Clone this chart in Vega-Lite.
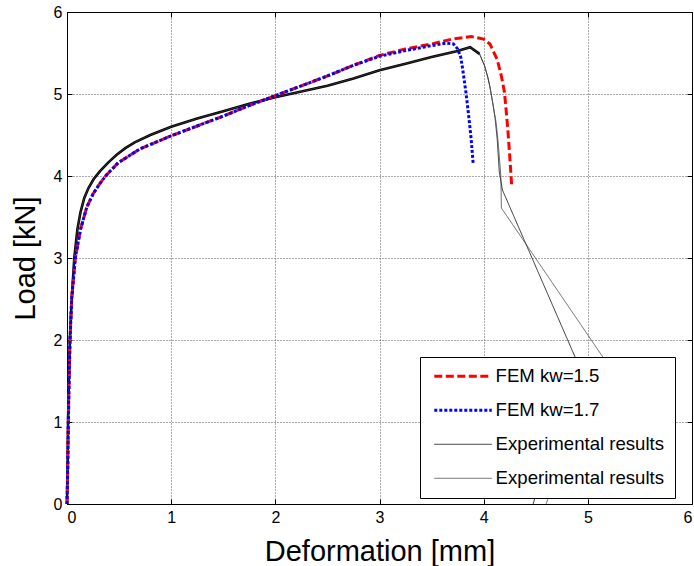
{
  "$schema": "https://vega.github.io/schema/vega-lite/v6.json",
  "width": 625,
  "height": 492,
  "autosize": {"type": "none"},
  "padding": {"left": 67, "top": 12, "right": 2, "bottom": 62},
  "background": "white",
  "config": {
    "font": "Liberation Sans",
    "view": {"stroke": "black", "strokeWidth": 1},
    "axis": {
      "labelFont": "Liberation Sans",
      "titleFont": "Liberation Sans",
      "labelColor": "black",
      "titleColor": "black",
      "titleFontWeight": "normal",
      "domainColor": "black",
      "tickColor": "black",
      "gridColor": "#555555",
      "gridDash": [1, 2],
      "gridOpacity": 1
    }
  },
  "datasets": {
    "curves": [
      {"s": "Exp1", "i": 1, "x": 0, "y": 0},
      {"s": "Exp1", "i": 2, "x": 0.006, "y": 0.5},
      {"s": "Exp1", "i": 3, "x": 0.01, "y": 1.0},
      {"s": "Exp1", "i": 4, "x": 0.018, "y": 1.5},
      {"s": "Exp1", "i": 5, "x": 0.028, "y": 2.0},
      {"s": "Exp1", "i": 6, "x": 0.045, "y": 2.5},
      {"s": "Exp1", "i": 7, "x": 0.07, "y": 3.0},
      {"s": "Exp1", "i": 8, "x": 0.1, "y": 3.35},
      {"s": "Exp1", "i": 9, "x": 0.13, "y": 3.56},
      {"s": "Exp1", "i": 10, "x": 0.165, "y": 3.73},
      {"s": "Exp1", "i": 11, "x": 0.205, "y": 3.85},
      {"s": "Exp1", "i": 12, "x": 0.255, "y": 3.96},
      {"s": "Exp1", "i": 13, "x": 0.317, "y": 4.06},
      {"s": "Exp1", "i": 14, "x": 0.4, "y": 4.17},
      {"s": "Exp1", "i": 15, "x": 0.477, "y": 4.26},
      {"s": "Exp1", "i": 16, "x": 0.56, "y": 4.34},
      {"s": "Exp1", "i": 17, "x": 0.65, "y": 4.41},
      {"s": "Exp1", "i": 18, "x": 0.8, "y": 4.5},
      {"s": "Exp1", "i": 19, "x": 1.0, "y": 4.6},
      {"s": "Exp1", "i": 20, "x": 1.25, "y": 4.7},
      {"s": "Exp1", "i": 21, "x": 1.5, "y": 4.79},
      {"s": "Exp1", "i": 22, "x": 1.75, "y": 4.88},
      {"s": "Exp1", "i": 23, "x": 2.0, "y": 4.96},
      {"s": "Exp1", "i": 24, "x": 2.25, "y": 5.03},
      {"s": "Exp1", "i": 25, "x": 2.5, "y": 5.1},
      {"s": "Exp1", "i": 26, "x": 2.75, "y": 5.19},
      {"s": "Exp1", "i": 27, "x": 3.0, "y": 5.29},
      {"s": "Exp1", "i": 28, "x": 3.25, "y": 5.37},
      {"s": "Exp1", "i": 29, "x": 3.5, "y": 5.45},
      {"s": "Exp1", "i": 30, "x": 3.74, "y": 5.52},
      {"s": "Exp1", "i": 31, "x": 3.87, "y": 5.57},
      {"s": "Exp1", "i": 32, "x": 3.96, "y": 5.49},
      {"s": "Exp1", "i": 33, "x": 4.01, "y": 5.34},
      {"s": "Exp1", "i": 34, "x": 4.04, "y": 5.2},
      {"s": "Exp1", "i": 35, "x": 4.06, "y": 5.09},
      {"s": "Exp1", "i": 36, "x": 4.09, "y": 4.87},
      {"s": "Exp1", "i": 37, "x": 4.11, "y": 4.7},
      {"s": "Exp1", "i": 38, "x": 4.13, "y": 4.45},
      {"s": "Exp1", "i": 39, "x": 4.15, "y": 4.05},
      {"s": "Exp1", "i": 40, "x": 4.18, "y": 3.83},
      {"s": "Exp1", "i": 41, "x": 4.875, "y": 1.8},
      {"s": "Exp1", "i": 42, "x": 4.91, "y": 1.7},
      {"s": "Exp1", "i": 43, "x": 4.95, "y": 1.2},
      {"s": "Exp1", "i": 44, "x": 4.52, "y": 0.2},
      {"s": "Exp1", "i": 45, "x": 4.475, "y": 0},
      {"s": "Exp2", "i": 1, "x": 0, "y": 0},
      {"s": "Exp2", "i": 2, "x": 0.006, "y": 0.5},
      {"s": "Exp2", "i": 3, "x": 0.01, "y": 1.0},
      {"s": "Exp2", "i": 4, "x": 0.018, "y": 1.5},
      {"s": "Exp2", "i": 5, "x": 0.028, "y": 2.0},
      {"s": "Exp2", "i": 6, "x": 0.045, "y": 2.5},
      {"s": "Exp2", "i": 7, "x": 0.07, "y": 3.0},
      {"s": "Exp2", "i": 8, "x": 0.1, "y": 3.35},
      {"s": "Exp2", "i": 9, "x": 0.13, "y": 3.56},
      {"s": "Exp2", "i": 10, "x": 0.165, "y": 3.73},
      {"s": "Exp2", "i": 11, "x": 0.205, "y": 3.85},
      {"s": "Exp2", "i": 12, "x": 0.255, "y": 3.96},
      {"s": "Exp2", "i": 13, "x": 0.317, "y": 4.06},
      {"s": "Exp2", "i": 14, "x": 0.4, "y": 4.17},
      {"s": "Exp2", "i": 15, "x": 0.477, "y": 4.26},
      {"s": "Exp2", "i": 16, "x": 0.56, "y": 4.34},
      {"s": "Exp2", "i": 17, "x": 0.65, "y": 4.41},
      {"s": "Exp2", "i": 18, "x": 0.8, "y": 4.5},
      {"s": "Exp2", "i": 19, "x": 1.0, "y": 4.6},
      {"s": "Exp2", "i": 20, "x": 1.25, "y": 4.7},
      {"s": "Exp2", "i": 21, "x": 1.5, "y": 4.79},
      {"s": "Exp2", "i": 22, "x": 1.75, "y": 4.88},
      {"s": "Exp2", "i": 23, "x": 2.0, "y": 4.96},
      {"s": "Exp2", "i": 24, "x": 2.25, "y": 5.03},
      {"s": "Exp2", "i": 25, "x": 2.5, "y": 5.1},
      {"s": "Exp2", "i": 26, "x": 2.75, "y": 5.19},
      {"s": "Exp2", "i": 27, "x": 3.0, "y": 5.29},
      {"s": "Exp2", "i": 28, "x": 3.25, "y": 5.37},
      {"s": "Exp2", "i": 29, "x": 3.5, "y": 5.45},
      {"s": "Exp2", "i": 30, "x": 3.74, "y": 5.52},
      {"s": "Exp2", "i": 31, "x": 3.87, "y": 5.57},
      {"s": "Exp2", "i": 32, "x": 3.96, "y": 5.49},
      {"s": "Exp2", "i": 33, "x": 4.01, "y": 5.34},
      {"s": "Exp2", "i": 34, "x": 4.045, "y": 5.18},
      {"s": "Exp2", "i": 35, "x": 4.065, "y": 5.05},
      {"s": "Exp2", "i": 36, "x": 4.095, "y": 4.83},
      {"s": "Exp2", "i": 37, "x": 4.12, "y": 4.65},
      {"s": "Exp2", "i": 38, "x": 4.14, "y": 4.4},
      {"s": "Exp2", "i": 39, "x": 4.165, "y": 4.0},
      {"s": "Exp2", "i": 40, "x": 4.17, "y": 3.61},
      {"s": "Exp2", "i": 41, "x": 5.14, "y": 1.8},
      {"s": "Exp2", "i": 42, "x": 5.2, "y": 1.69},
      {"s": "Exp2", "i": 43, "x": 5.3, "y": 1.0},
      {"s": "Exp2", "i": 44, "x": 4.652, "y": 0.2},
      {"s": "Exp2", "i": 45, "x": 4.6, "y": 0},
      {"s": "FEM15", "i": 1, "x": 0, "y": 0},
      {"s": "FEM15", "i": 2, "x": 0.008, "y": 0.5},
      {"s": "FEM15", "i": 3, "x": 0.013, "y": 1.0},
      {"s": "FEM15", "i": 4, "x": 0.02, "y": 1.5},
      {"s": "FEM15", "i": 5, "x": 0.029, "y": 2.0},
      {"s": "FEM15", "i": 6, "x": 0.045, "y": 2.5},
      {"s": "FEM15", "i": 7, "x": 0.08, "y": 3.0},
      {"s": "FEM15", "i": 8, "x": 0.13, "y": 3.35},
      {"s": "FEM15", "i": 9, "x": 0.19, "y": 3.62},
      {"s": "FEM15", "i": 10, "x": 0.25, "y": 3.78},
      {"s": "FEM15", "i": 11, "x": 0.3, "y": 3.88},
      {"s": "FEM15", "i": 12, "x": 0.37, "y": 4.0},
      {"s": "FEM15", "i": 13, "x": 0.49, "y": 4.16},
      {"s": "FEM15", "i": 14, "x": 0.7, "y": 4.33},
      {"s": "FEM15", "i": 15, "x": 1.0, "y": 4.49},
      {"s": "FEM15", "i": 16, "x": 1.25, "y": 4.61},
      {"s": "FEM15", "i": 17, "x": 1.5, "y": 4.73},
      {"s": "FEM15", "i": 18, "x": 1.75, "y": 4.86},
      {"s": "FEM15", "i": 19, "x": 2.0, "y": 4.98},
      {"s": "FEM15", "i": 20, "x": 2.25, "y": 5.1},
      {"s": "FEM15", "i": 21, "x": 2.5, "y": 5.22},
      {"s": "FEM15", "i": 22, "x": 2.75, "y": 5.35},
      {"s": "FEM15", "i": 23, "x": 3.0, "y": 5.47},
      {"s": "FEM15", "i": 24, "x": 3.25, "y": 5.55},
      {"s": "FEM15", "i": 25, "x": 3.5, "y": 5.61},
      {"s": "FEM15", "i": 26, "x": 3.7, "y": 5.67},
      {"s": "FEM15", "i": 27, "x": 3.88, "y": 5.7},
      {"s": "FEM15", "i": 28, "x": 4.0, "y": 5.67},
      {"s": "FEM15", "i": 29, "x": 4.06, "y": 5.61},
      {"s": "FEM15", "i": 30, "x": 4.13, "y": 5.42},
      {"s": "FEM15", "i": 31, "x": 4.17, "y": 5.22},
      {"s": "FEM15", "i": 32, "x": 4.2, "y": 5.02},
      {"s": "FEM15", "i": 33, "x": 4.23, "y": 4.6},
      {"s": "FEM15", "i": 34, "x": 4.25, "y": 4.25},
      {"s": "FEM15", "i": 35, "x": 4.27, "y": 3.86},
      {"s": "FEM17", "i": 1, "x": 0, "y": 0},
      {"s": "FEM17", "i": 2, "x": 0.008, "y": 0.5},
      {"s": "FEM17", "i": 3, "x": 0.013, "y": 1.0},
      {"s": "FEM17", "i": 4, "x": 0.02, "y": 1.5},
      {"s": "FEM17", "i": 5, "x": 0.029, "y": 2.0},
      {"s": "FEM17", "i": 6, "x": 0.045, "y": 2.5},
      {"s": "FEM17", "i": 7, "x": 0.08, "y": 3.0},
      {"s": "FEM17", "i": 8, "x": 0.13, "y": 3.35},
      {"s": "FEM17", "i": 9, "x": 0.19, "y": 3.62},
      {"s": "FEM17", "i": 10, "x": 0.25, "y": 3.78},
      {"s": "FEM17", "i": 11, "x": 0.3, "y": 3.88},
      {"s": "FEM17", "i": 12, "x": 0.37, "y": 4.0},
      {"s": "FEM17", "i": 13, "x": 0.49, "y": 4.16},
      {"s": "FEM17", "i": 14, "x": 0.7, "y": 4.33},
      {"s": "FEM17", "i": 15, "x": 1.0, "y": 4.49},
      {"s": "FEM17", "i": 16, "x": 1.25, "y": 4.61},
      {"s": "FEM17", "i": 17, "x": 1.5, "y": 4.73},
      {"s": "FEM17", "i": 18, "x": 1.75, "y": 4.86},
      {"s": "FEM17", "i": 19, "x": 2.0, "y": 4.98},
      {"s": "FEM17", "i": 20, "x": 2.25, "y": 5.1},
      {"s": "FEM17", "i": 21, "x": 2.5, "y": 5.22},
      {"s": "FEM17", "i": 22, "x": 2.75, "y": 5.35},
      {"s": "FEM17", "i": 23, "x": 3.0, "y": 5.46},
      {"s": "FEM17", "i": 24, "x": 3.25, "y": 5.53},
      {"s": "FEM17", "i": 25, "x": 3.5, "y": 5.59},
      {"s": "FEM17", "i": 26, "x": 3.64, "y": 5.62},
      {"s": "FEM17", "i": 27, "x": 3.71, "y": 5.61},
      {"s": "FEM17", "i": 28, "x": 3.75, "y": 5.55},
      {"s": "FEM17", "i": 29, "x": 3.78, "y": 5.45},
      {"s": "FEM17", "i": 30, "x": 3.8, "y": 5.29},
      {"s": "FEM17", "i": 31, "x": 3.83, "y": 5.02},
      {"s": "FEM17", "i": 32, "x": 3.86, "y": 4.69},
      {"s": "FEM17", "i": 33, "x": 3.88, "y": 4.45},
      {"s": "FEM17", "i": 34, "x": 3.9, "y": 4.14}
    ]
  },
  "data": {"name": "curves"},
  "resolve": {"axis": {"x": "independent", "y": "independent"}},
  "layer": [
    {
      "transform": [{"filter": "datum.s == 'Exp1' && datum.x <= 3.97"}],
      "mark": {"type": "line", "color": "black", "strokeWidth": 2.6},
      "encoding": {
        "x": {"field": "x", "type": "quantitative",
          "scale": {"domain": [0, 6], "nice": false},
          "axis": {"orient": "bottom", "values": [0, 1, 2, 3, 4, 5, 6], "format": "d",
            "title": "Deformation [mm]", "titleFontSize": 29, "titlePadding": 12,
            "labelFontSize": 16, "labelPadding": 10, "tickSize": -5, "grid": true}},
        "y": {"field": "y", "type": "quantitative",
          "scale": {"domain": [0, 6], "nice": false},
          "axis": {"orient": "left", "values": [0, 1, 2, 3, 4, 5, 6], "format": "d",
            "title": "Load [kN]", "titleFontSize": 29, "titlePadding": 13,
            "labelFontSize": 16, "labelPadding": 10, "tickSize": -5, "grid": true}},
        "order": {"field": "i", "type": "quantitative"}
      }
    },
    {
      "mark": {"type": "line"},
      "encoding": {
        "x": {"field": "x", "type": "quantitative",
          "scale": {"domain": [0, 6], "nice": false},
          "axis": {"orient": "top", "values": [0, 1, 2, 3, 4, 5, 6], "labels": false,
            "title": null, "tickSize": -5, "grid": false}},
        "y": {"field": "y", "type": "quantitative",
          "scale": {"domain": [0, 6], "nice": false},
          "axis": {"orient": "right", "values": [0, 1, 2, 3, 4, 5, 6], "labels": false,
            "title": null, "tickSize": -5, "grid": false}},
        "order": {"field": "i", "type": "quantitative"},
        "color": {"field": "s", "type": "nominal",
          "scale": {"domain": ["FEM15", "FEM17", "Exp1", "Exp2"],
            "range": ["#ff0000", "#0000ff", "#000000", "#444444"]},
          "legend": {
            "title": null, "orient": "none", "legendX": 353, "legendY": 345,
            "labelExpr": "datum.label == 'FEM15' ? 'FEM kw=1.5' : datum.label == 'FEM17' ? 'FEM kw=1.7' : 'Experimental results'",
            "labelFontSize": 18.6, "labelFont": "Liberation Sans", "labelColor": "black",
            "labelLimit": 400,
            "symbolType": "M-1,0H10.5", "symbolSize": 100, "labelOffset": 47,
            "rowPadding": 15, "padding": 10, "fillColor": "white",
            "strokeColor": "black", "cornerRadius": 0}},
        "strokeDash": {"field": "s", "type": "nominal",
          "scale": {"domain": ["FEM15", "FEM17", "Exp1", "Exp2"],
            "range": [[8, 3.5], [3, 2], [1, 0], [1, 0]]}},
        "strokeWidth": {"field": "s", "type": "nominal",
          "scale": {"type": "ordinal", "domain": ["FEM15", "FEM17", "Exp1", "Exp2"],
            "range": [3, 3, 0.8, 0.8]}}
      }
    }
  ]
}
